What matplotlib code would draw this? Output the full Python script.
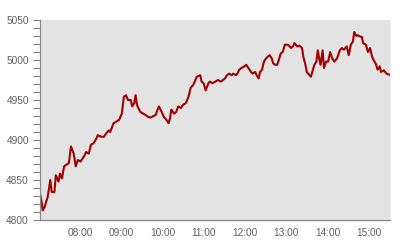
import matplotlib
matplotlib.use("Agg")
import matplotlib.pyplot as plt
from matplotlib.ticker import MultipleLocator, FixedLocator

# minutes after 07:00
minutes = [2, 5, 6, 9, 11, 13, 17, 19, 23, 25, 29, 31, 34, 37, 40, 44, 47, 51, 54, 57,
           61, 64, 67, 69, 73, 76, 80, 84, 86, 91, 95, 98, 102, 104, 109, 113, 117, 121, 124, 127,
           130, 134, 136, 139, 141, 143, 145, 148, 152, 156, 159, 163, 167, 170, 173, 175, 179, 182, 186, 189,
           191, 193, 197, 200, 203, 207, 210, 214, 218, 221, 225, 230, 235, 237, 240, 243, 247, 249, 253, 257,
           261, 265, 268, 271, 274, 277, 281, 283, 287, 289, 292, 295, 299, 302, 305, 309, 311, 315, 317, 320,
           322, 325, 327, 329, 333, 336, 339, 341, 344, 347, 350, 352, 355, 358, 363, 367, 370, 372, 376, 379,
           383, 385, 388, 390, 394, 396, 399, 401, 404, 406, 408, 410, 413, 415, 418, 421, 424, 427, 430, 434,
           438, 441, 444, 448, 451, 454, 457, 459, 462, 464, 468, 470, 472, 476, 479, 482, 485, 487, 490, 493,
           496, 498, 502, 506, 509, 511]
values = [4833, 4819, 4812, 4817, 4823, 4828, 4850, 4835, 4835, 4856, 4848, 4858, 4852, 4867, 4869, 4871, 4892, 4883, 4867, 4875,
          4873, 4877, 4881, 4885, 4883, 4894, 4896, 4902, 4906, 4904, 4904, 4908, 4912, 4910, 4921, 4923, 4925, 4933, 4954, 4956,
          4950, 4950, 4942, 4946, 4956, 4944, 4940, 4935, 4933, 4931, 4929, 4928, 4930, 4931, 4938, 4942, 4935, 4929, 4925, 4921,
          4927, 4938, 4933, 4935, 4942, 4940, 4944, 4946, 4954, 4965, 4969, 4979, 4981, 4973, 4971, 4962, 4971, 4973, 4971, 4973,
          4975, 4973, 4975, 4977, 4981, 4983, 4981, 4983, 4981, 4983, 4988, 4990, 4992, 4994, 4990, 4985, 4983, 4985, 4981, 4977,
          4985, 4988, 4996, 5000, 5004, 5006, 5002, 4996, 4994, 4994, 5002, 5008, 5010, 5019, 5019, 5015, 5017, 5021, 5017, 5018,
          5015, 5004, 4994, 4985, 4981, 4979, 4988, 4994, 4998, 5012, 5002, 4994, 5012, 4990, 4998, 4998, 5010, 5002, 4998, 5002,
          5012, 5015, 5013, 5017, 5006, 5019, 5023, 5035, 5030, 5031, 5029, 5029, 5021, 5019, 5010, 5015, 5004, 5000, 4996, 4988,
          4992, 4985, 4987, 4983, 4982, 4981]

tick_minutes = [60, 120, 180, 240, 300, 360, 420, 480]
tick_labels = ["08:00", "09:00", "10:00", "11:00", "12:00", "13:00", "14:00", "15:00"]
y_min, y_max = 4800, 5050

plt.rcParams['font.family'] = ['Liberation Sans', 'DejaVu Sans']
fig = plt.figure(figsize=(4, 2.4), dpi=100)
ax = fig.add_axes([40/400, 20/240, 350/400, 200/240])
ax.set_facecolor('#e3e3e3')
ax.plot(minutes, values, color='#a00000', linewidth=1.5, solid_joinstyle='round')
ax.set_xlim(minutes[0], minutes[-1])
ax.set_ylim(y_min, y_max)

ax.yaxis.set_major_locator(MultipleLocator(50))
ax.yaxis.set_minor_locator(MultipleLocator(10))
ax.xaxis.set_major_locator(FixedLocator(tick_minutes))
ax.set_xticklabels(tick_labels)

ax.spines['top'].set_visible(False)
ax.spines['left'].set_color('#888888')
ax.spines['bottom'].set_color('#888888')
ax.spines['right'].set_color('#eeeeee')
for s in ['left', 'bottom', 'right']:
    ax.spines[s].set_linewidth(0.9)

ax.tick_params(axis='y', which='both', direction='out', length=5, width=0.8,
               color='#888888', labelsize=7.3, labelcolor='#606060', pad=3)
ax.tick_params(axis='x', which='both', length=0, labelsize=7.3, labelcolor='#606060', pad=6)

fig.savefig('out.png', dpi=100)
